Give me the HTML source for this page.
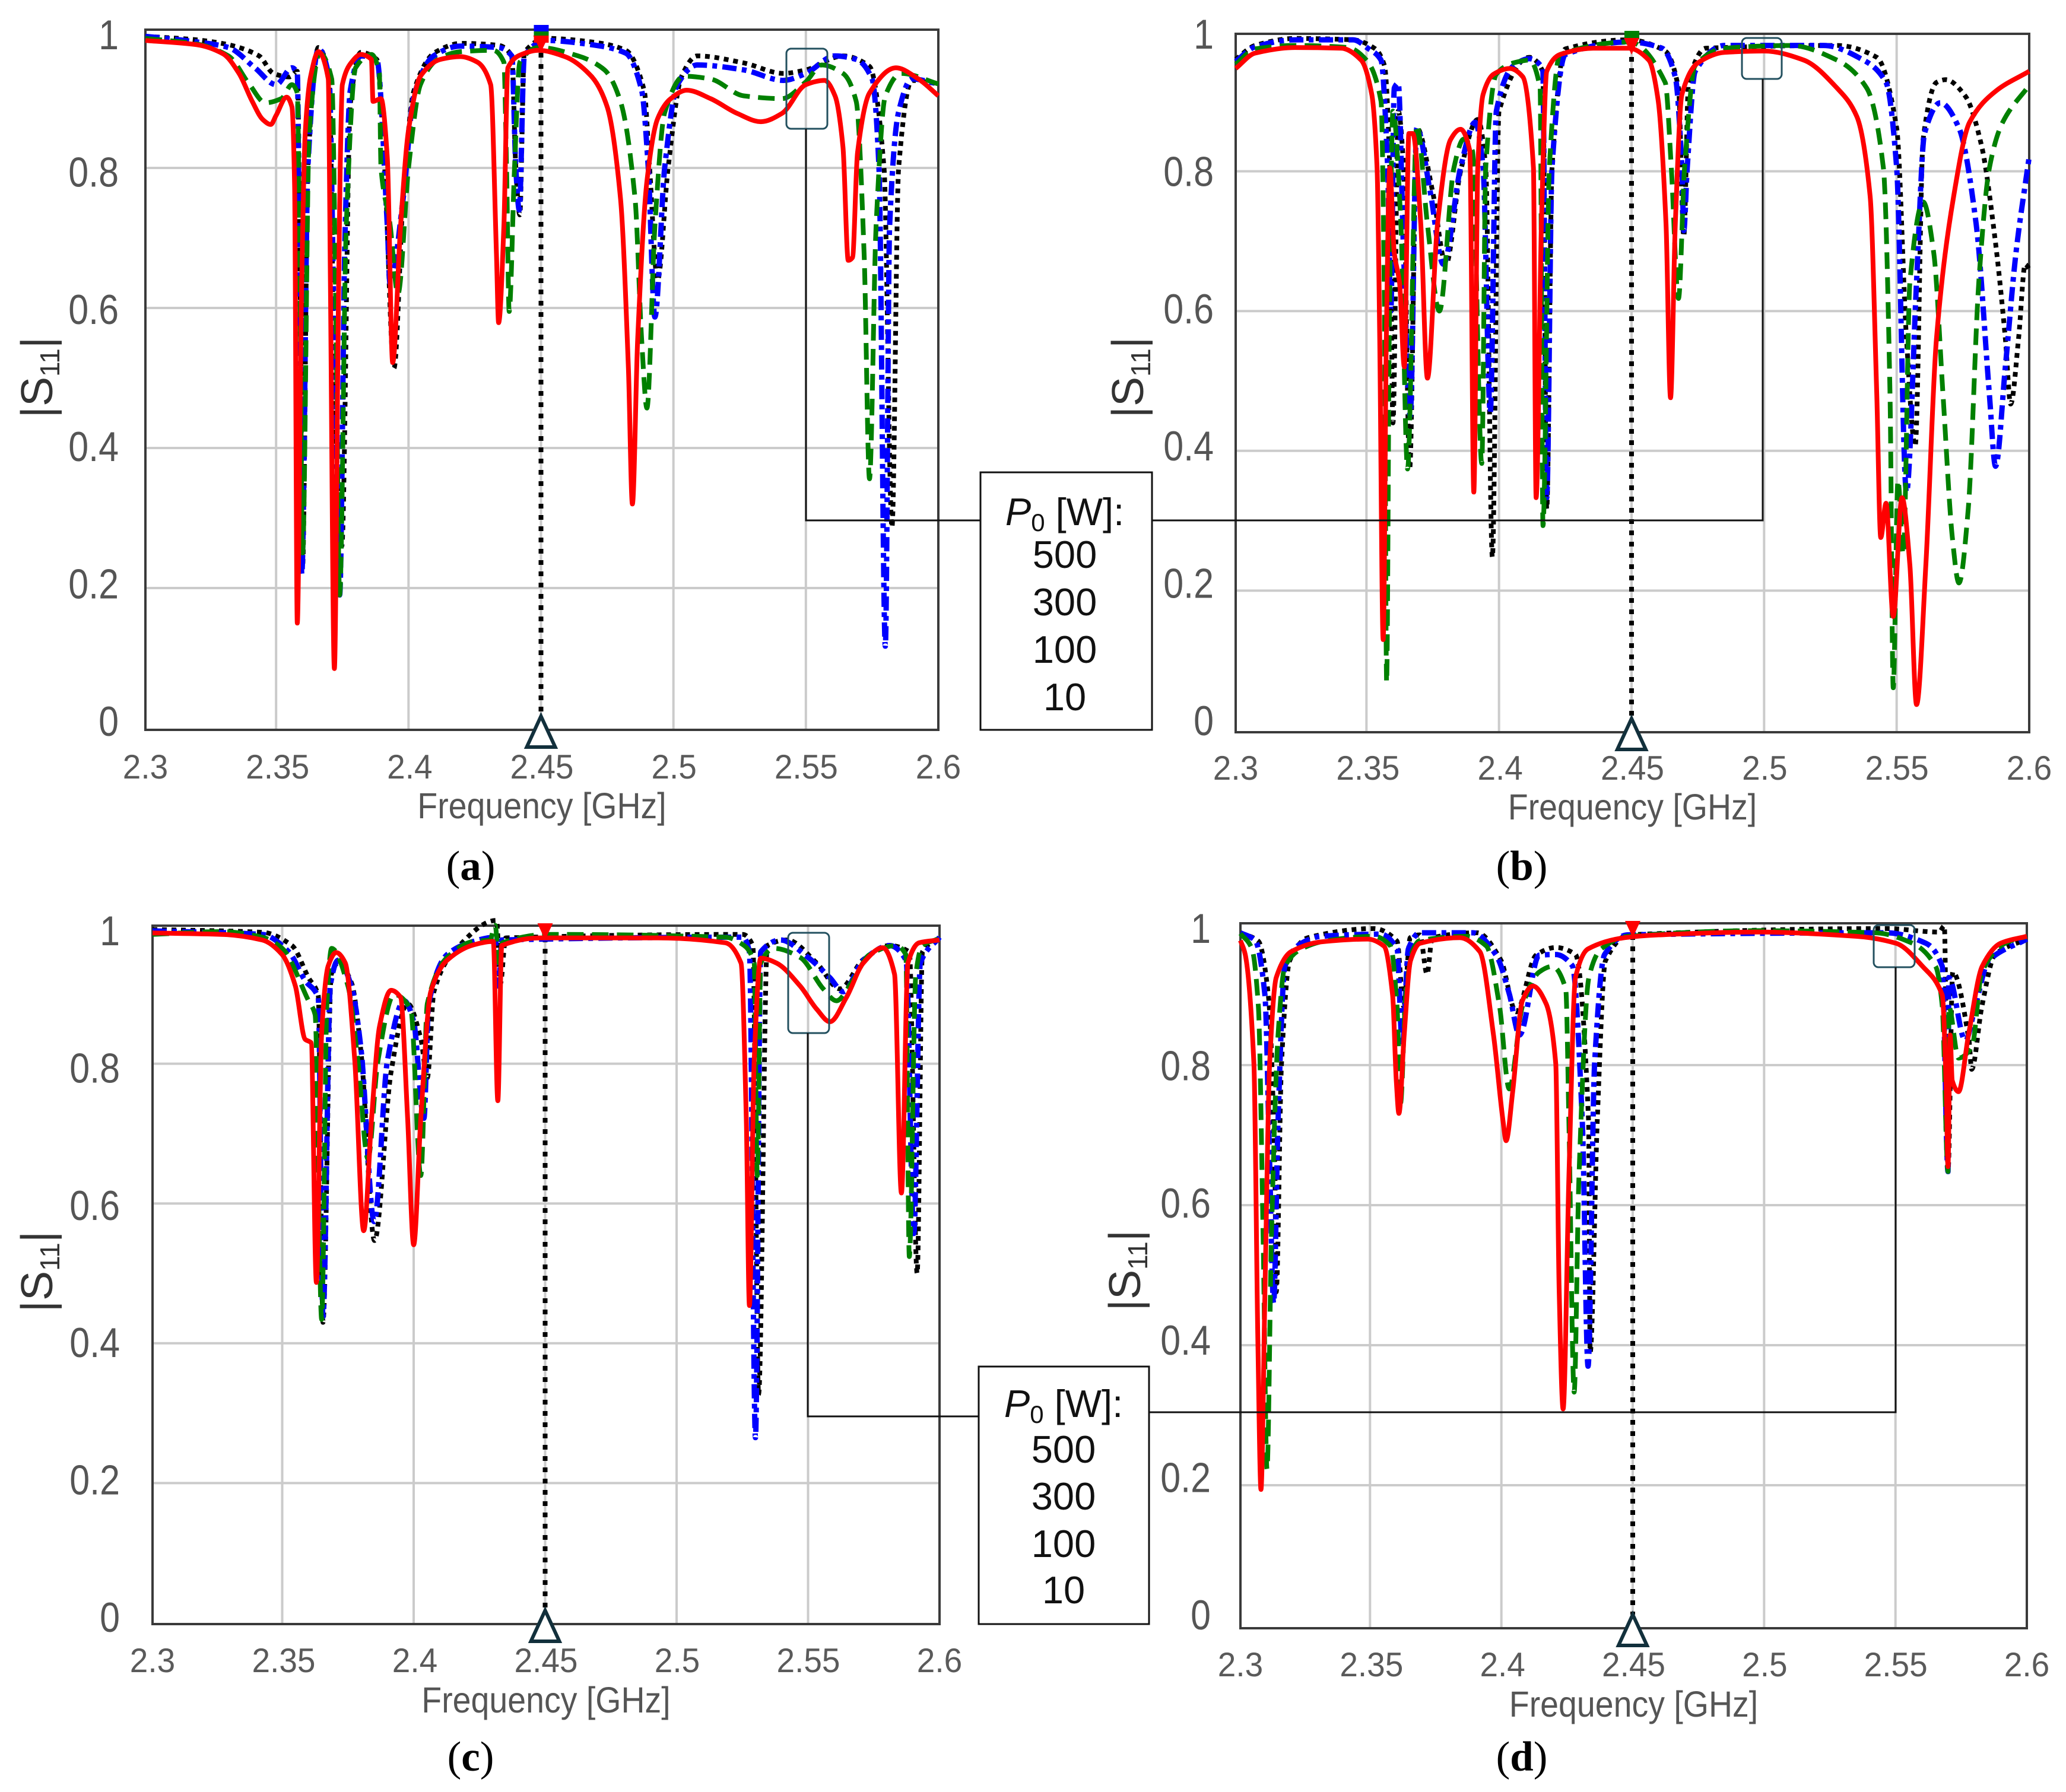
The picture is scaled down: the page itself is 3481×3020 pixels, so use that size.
<!DOCTYPE html>
<html><head><meta charset="utf-8"><title>S11 frequency response at four power levels</title>
<style>html,body{margin:0;padding:0;background:#fff}svg{display:block}text{font-family:"Liberation Sans",sans-serif}</style>
</head><body>
<svg id="fig" xmlns="http://www.w3.org/2000/svg" width="3481" height="3020" viewBox="0 0 3481 3020"><rect width="3481" height="3020" fill="#fff"/></svg>
<script>
const xTicks=[2.3,2.35,2.4,2.45,2.5,2.55,2.6];
const xTickLabels=["2.3","2.35","2.4","2.45","2.5","2.55","2.6"];
const yTicks=[0,0.2,0.4,0.6,0.8,1];
const yTickLabels=["0","0.2","0.4","0.6","0.8","1"];
const legendLabels=["500","300","100","10"];

const aBlackF=[2.3,2.32,2.332,2.3436,2.349,2.355,2.358,2.3592,2.36,2.362,2.366,2.37,2.372,2.3748,2.378,2.382,2.388,2.391,2.3945,2.398,2.402,2.41,2.42,2.434,2.439,2.4405,2.442,2.4437,2.452,2.469,2.482,2.489,2.491,2.494,2.498,2.503,2.509,2.5265,2.5415,2.55,2.564,2.574,2.5795,2.5825,2.585,2.59,2.6];
const aBlackS=[0.988,0.983,0.976,0.96,0.935,0.93,0.938,0.6,0.23,0.8,0.972,0.93,0.5,0.26,0.89,0.965,0.955,0.8,0.514,0.76,0.91,0.965,0.978,0.975,0.96,0.8,0.733,0.965,0.985,0.98,0.968,0.91,0.8,0.64,0.8,0.93,0.96,0.95,0.935,0.94,0.96,0.945,0.8,0.287,0.8,0.925,0.92];
const aBlueF=[2.3,2.32,2.332,2.342,2.35,2.356,2.358,2.3597,2.362,2.366,2.37,2.372,2.374,2.376,2.378,2.382,2.388,2.392,2.393,2.398,2.402,2.4095,2.4195,2.434,2.439,2.4405,2.4418,2.4437,2.452,2.469,2.482,2.488,2.4905,2.493,2.4967,2.5015,2.509,2.5265,2.5415,2.55,2.561,2.569,2.575,2.5776,2.58,2.5816,2.585,2.59,2.6];
const aBlueS=[0.988,0.98,0.972,0.943,0.919,0.943,0.935,0.22,0.8,0.97,0.93,0.55,0.19,0.7,0.91,0.96,0.955,0.717,0.635,0.757,0.903,0.96,0.974,0.972,0.96,0.8,0.74,0.96,0.982,0.976,0.964,0.911,0.8,0.587,0.8,0.919,0.947,0.94,0.925,0.935,0.96,0.955,0.927,0.8,0.117,0.717,0.88,0.927,0.92];
const aGreenF=[2.3,2.32,2.332,2.34,2.346,2.352,2.356,2.358,2.359,2.36,2.3625,2.3665,2.371,2.3727,2.374,2.3765,2.38,2.386,2.389,2.3896,2.393,2.396,2.4,2.4045,2.411,2.4195,2.432,2.436,2.437,2.438,2.44,2.442,2.449,2.464,2.474,2.48,2.4855,2.488,2.49,2.493,2.4967,2.504,2.514,2.5265,2.541,2.55,2.556,2.564,2.569,2.572,2.574,2.5765,2.58,2.586,2.6];
const aGreenS=[0.985,0.977,0.96,0.919,0.893,0.899,0.919,0.907,0.636,0.25,0.85,0.964,0.927,0.555,0.19,0.717,0.943,0.962,0.935,0.8,0.72,0.62,0.8,0.919,0.955,0.966,0.968,0.951,0.8,0.595,0.8,0.951,0.972,0.96,0.94,0.895,0.757,0.555,0.457,0.717,0.879,0.931,0.927,0.903,0.899,0.923,0.947,0.935,0.895,0.676,0.356,0.717,0.903,0.935,0.92];
const aRedF=[2.3,2.32,2.33,2.336,2.341,2.345,2.348,2.35,2.354,2.356,2.357,2.358,2.3595,2.361,2.363,2.366,2.3697,2.3705,2.372,2.3735,2.3742,2.375,2.3785,2.382,2.386,2.3866,2.3896,2.392,2.394,2.397,2.4,2.4045,2.412,2.4195,2.426,2.431,2.4332,2.434,2.436,2.4375,2.442,2.449,2.459,2.469,2.475,2.48,2.483,2.4845,2.4865,2.49,2.494,2.499,2.505,2.514,2.524,2.533,2.541,2.55,2.557,2.561,2.564,2.566,2.5676,2.5695,2.574,2.584,2.5925,2.6];
const aRedS=[0.982,0.976,0.963,0.935,0.895,0.869,0.862,0.875,0.901,0.887,0.773,0.15,0.6,0.85,0.93,0.966,0.927,0.636,0.085,0.6,0.8,0.919,0.951,0.962,0.955,0.895,0.899,0.814,0.522,0.717,0.854,0.931,0.955,0.959,0.951,0.919,0.676,0.579,0.717,0.943,0.961,0.968,0.959,0.931,0.887,0.757,0.514,0.32,0.555,0.781,0.87,0.899,0.911,0.899,0.878,0.866,0.878,0.919,0.925,0.903,0.83,0.668,0.672,0.822,0.907,0.943,0.927,0.903];

const bBlackF=[2.3,2.308,2.323,2.345,2.353,2.3568,2.3588,2.36,2.362,2.364,2.3663,2.369,2.375,2.38,2.3855,2.392,2.395,2.3975,2.4,2.4115,2.4165,2.418,2.42,2.425,2.449,2.4627,2.4677,2.4697,2.4715,2.478,2.5275,2.5425,2.55,2.5537,2.557,2.56,2.565,2.5685,2.576,2.582,2.587,2.591,2.593,2.596,2.5985,2.6];
const bBlackS=[0.96,0.98,0.99,0.988,0.976,0.951,0.805,0.44,0.886,0.805,0.374,0.862,0.77,0.667,0.8,0.874,0.805,0.248,0.886,0.963,0.943,0.317,0.805,0.975,0.988,0.972,0.919,0.707,0.927,0.976,0.98,0.963,0.862,0.561,0.407,0.846,0.927,0.931,0.907,0.837,0.707,0.561,0.467,0.561,0.667,0.66];
const bBlueF=[2.3,2.308,2.323,2.345,2.3505,2.3555,2.358,2.3592,2.3605,2.362,2.364,2.3665,2.369,2.374,2.379,2.3855,2.391,2.394,2.3967,2.399,2.4055,2.4115,2.4165,2.418,2.42,2.425,2.449,2.4615,2.4665,2.469,2.4697,2.471,2.474,2.485,2.5225,2.5375,2.546,2.55,2.5537,2.5575,2.5605,2.5665,2.5735,2.58,2.585,2.5873,2.591,2.595,2.6];
const bBlueS=[0.957,0.978,0.988,0.988,0.976,0.959,0.805,0.6,0.919,0.926,0.683,0.45,0.862,0.772,0.667,0.805,0.87,0.805,0.455,0.886,0.951,0.961,0.947,0.333,0.805,0.967,0.985,0.976,0.935,0.805,0.715,0.805,0.943,0.98,0.98,0.959,0.927,0.805,0.341,0.642,0.854,0.898,0.862,0.724,0.48,0.378,0.52,0.683,0.821];
const bGreenF=[2.3,2.308,2.323,2.343,2.35,2.3555,2.3568,2.3576,2.3586,2.36,2.363,2.3655,2.369,2.373,2.3775,2.383,2.3867,2.39,2.3935,2.395,2.399,2.4055,2.4115,2.4155,2.4166,2.419,2.423,2.449,2.4627,2.465,2.4677,2.47,2.474,2.485,2.51,2.5275,2.5387,2.545,2.5475,2.5487,2.5505,2.5525,2.555,2.56,2.564,2.5675,2.571,2.5735,2.577,2.581,2.585,2.59,2.6];
const bGreenS=[0.953,0.975,0.98,0.977,0.959,0.9,0.6,0.069,0.56,0.886,0.724,0.374,0.866,0.724,0.6,0.805,0.846,0.829,0.382,0.805,0.939,0.955,0.959,0.919,0.293,0.805,0.967,0.985,0.927,0.805,0.618,0.805,0.951,0.976,0.98,0.959,0.919,0.805,0.48,0.061,0.358,0.252,0.642,0.756,0.683,0.48,0.276,0.211,0.317,0.642,0.805,0.87,0.923];
const bRedF=[2.3,2.308,2.323,2.3405,2.348,2.352,2.354,2.355,2.3563,2.3575,2.3588,2.3605,2.3625,2.3643,2.366,2.3675,2.3705,2.373,2.3768,2.3817,2.3855,2.389,2.3905,2.392,2.394,2.398,2.404,2.409,2.413,2.414,2.416,2.418,2.423,2.4355,2.449,2.4565,2.46,2.463,2.4647,2.4665,2.469,2.475,2.485,2.5,2.515,2.5275,2.535,2.54,2.5425,2.544,2.546,2.5487,2.552,2.555,2.5575,2.561,2.565,2.5715,2.5775,2.5875,2.6];
const bRedS=[0.947,0.969,0.977,0.976,0.959,0.91,0.805,0.56,0.13,0.56,0.805,0.683,0.64,0.52,0.854,0.854,0.724,0.504,0.724,0.845,0.86,0.829,0.341,0.805,0.91,0.939,0.947,0.935,0.805,0.333,0.724,0.943,0.967,0.976,0.976,0.959,0.902,0.724,0.476,0.724,0.91,0.955,0.97,0.972,0.959,0.919,0.878,0.764,0.48,0.276,0.325,0.163,0.333,0.236,0.037,0.236,0.56,0.764,0.87,0.915,0.943];

const cBlackF=[2.3,2.3424,2.3537,2.36,2.3637,2.3655,2.3687,2.3713,2.3764,2.3801,2.3851,2.3914,2.3977,2.4027,2.4052,2.4077,2.4152,2.4315,2.433,2.435,2.5252,2.529,2.5312,2.5345,2.542,2.5533,2.5621,2.571,2.581,2.5885,2.5915,2.5935,2.6];
const cBlackS=[0.992,0.988,0.969,0.923,0.898,0.43,0.928,0.944,0.915,0.812,0.547,0.788,0.886,0.836,0.78,0.903,0.96,1.005,0.915,0.98,0.985,0.969,0.327,0.969,0.977,0.944,0.907,0.949,0.969,0.96,0.5,0.96,0.981];
const cBlueF=[2.3,2.3424,2.3525,2.3587,2.3637,2.3655,2.3683,2.3713,2.3763,2.38,2.385,2.39,2.3964,2.4,2.4039,2.4057,2.4127,2.4228,2.431,2.4323,2.4335,2.5252,2.5277,2.53,2.532,2.5395,2.55,2.5583,2.5634,2.571,2.581,2.5873,2.5902,2.5927,2.6];
const cBlueS=[0.99,0.985,0.96,0.919,0.895,0.438,0.912,0.948,0.911,0.82,0.574,0.804,0.89,0.86,0.722,0.886,0.956,0.975,0.981,0.911,0.977,0.981,0.96,0.265,0.96,0.977,0.952,0.923,0.903,0.948,0.969,0.948,0.557,0.944,0.981];
const cGreenF=[2.3,2.327,2.3424,2.35,2.36,2.3625,2.365,2.367,2.3688,2.375,2.3788,2.3826,2.3864,2.3926,2.3989,2.4027,2.4052,2.4127,2.4228,2.429,2.431,2.4325,2.4337,2.4513,2.5185,2.5257,2.5295,2.5307,2.532,2.537,2.547,2.5558,2.5608,2.567,2.5734,2.5835,2.5872,2.5885,2.591,2.5935,2.6];
const cGreenS=[0.985,0.989,0.981,0.965,0.89,0.87,0.434,0.886,0.965,0.911,0.804,0.664,0.804,0.899,0.878,0.64,0.886,0.952,0.975,0.977,0.998,0.944,0.973,0.985,0.981,0.969,0.944,0.64,0.944,0.965,0.952,0.907,0.89,0.919,0.956,0.969,0.956,0.524,0.928,0.969,0.979];
const cRedF=[2.3,2.327,2.3424,2.35,2.355,2.3587,2.361,2.363,2.365,2.3675,2.3705,2.374,2.3776,2.381,2.384,2.387,2.3914,2.395,2.3977,2.4,2.4027,2.4065,2.4127,2.4228,2.4303,2.432,2.4335,2.448,2.493,2.5185,2.5245,2.5265,2.5277,2.5295,2.532,2.538,2.547,2.5533,2.5583,2.5646,2.571,2.5784,2.5829,2.5855,2.588,2.5923,2.6];
const cRedS=[0.987,0.985,0.977,0.956,0.911,0.835,0.83,0.487,0.845,0.94,0.959,0.944,0.804,0.561,0.722,0.853,0.905,0.895,0.722,0.541,0.722,0.903,0.948,0.97,0.975,0.747,0.969,0.98,0.98,0.973,0.944,0.722,0.454,0.804,0.951,0.944,0.911,0.878,0.86,0.895,0.944,0.966,0.928,0.615,0.944,0.973,0.977];

const dBlackF=[2.3,2.3075,2.3113,2.3138,2.3143,2.3163,2.3194,2.3264,2.3515,2.3603,2.3628,2.3653,2.369,2.3717,2.3737,2.3908,2.3998,2.4056,2.4132,2.4207,2.4282,2.4332,2.4338,2.4365,2.4396,2.4485,2.5465,2.5666,2.5686,2.57,2.5718,2.578,2.579,2.5829,2.5879,2.6];
const dBlackS=[0.989,0.977,0.9,0.644,0.476,0.802,0.949,0.982,0.995,0.977,0.884,0.982,0.986,0.93,0.982,0.989,0.95,0.876,0.957,0.968,0.958,0.72,0.39,0.72,0.949,0.986,0.995,0.99,0.999,0.648,0.933,0.835,0.794,0.884,0.958,0.98];
const dBlueF=[2.3,2.3063,2.31,2.3118,2.3133,2.315,2.3176,2.3239,2.3314,2.354,2.3603,2.3623,2.3646,2.369,2.3892,2.398,2.403,2.4069,2.4144,2.4207,2.427,2.4308,2.433,2.4355,2.4393,2.4481,2.5465,2.5616,2.5678,2.57,2.5703,2.5766,2.5804,2.5854,2.6];
const dBlueS=[0.989,0.978,0.9,0.66,0.46,0.72,0.941,0.974,0.984,0.987,0.966,0.827,0.966,0.989,0.989,0.957,0.902,0.843,0.957,0.958,0.942,0.72,0.37,0.803,0.958,0.986,0.989,0.974,0.941,0.648,0.925,0.835,0.884,0.949,0.98];
const dGreenF=[2.3,2.305,2.3075,2.3093,2.3108,2.3125,2.315,2.3176,2.3239,2.3339,2.3515,2.3578,2.3603,2.3616,2.3636,2.3665,2.369,2.3867,2.3943,2.3993,2.403,2.408,2.4144,2.4194,2.4245,2.4257,2.4277,2.4295,2.4333,2.438,2.4481,2.4974,2.5424,2.5565,2.5653,2.5678,2.57,2.5703,2.574,2.5791,2.5829,2.5917,2.6];
const dGreenS=[0.988,0.967,0.884,0.558,0.223,0.558,0.843,0.941,0.966,0.978,0.984,0.97,0.884,0.745,0.9,0.966,0.978,0.984,0.97,0.884,0.766,0.884,0.933,0.941,0.909,0.72,0.333,0.639,0.925,0.966,0.984,0.992,0.989,0.974,0.941,0.884,0.648,0.884,0.81,0.826,0.933,0.974,0.984];
const dRedF=[2.3,2.3025,2.3058,2.3073,2.3085,2.31,2.3118,2.3143,2.32,2.3314,2.349,2.3553,2.3586,2.36,2.361,2.363,2.3654,2.369,2.3842,2.3918,2.397,2.4006,2.4018,2.4043,2.408,2.412,2.417,2.4207,2.422,2.4235,2.4257,2.4282,2.433,2.447,2.46,2.4974,2.535,2.5502,2.5603,2.5678,2.5693,2.57,2.5708,2.5716,2.574,2.5778,2.583,2.59,2.6];
const dRedS=[0.978,0.958,0.802,0.41,0.194,0.476,0.802,0.925,0.962,0.976,0.98,0.97,0.9,0.778,0.731,0.843,0.949,0.974,0.982,0.962,0.843,0.721,0.692,0.762,0.892,0.913,0.888,0.802,0.476,0.309,0.639,0.925,0.966,0.982,0.986,0.99,0.984,0.974,0.941,0.9,0.77,0.655,0.843,0.778,0.762,0.843,0.941,0.974,0.984];

const SVGNS="http://www.w3.org/2000/svg";
const fig=document.getElementById("fig");
function mk(parent,tag,attrs,txt){
  const e=document.createElementNS(SVGNS,tag);
  for(const k in attrs){e.setAttribute(k,attrs[k]);}
  if(txt!==undefined){e.textContent=txt;}
  parent.appendChild(e);
  return e;
}
function smoothPath(xs,ys){
  const n=xs.length;
  const sl=[];
  for(let i=0;i<n-1;i++){sl.push((ys[i+1]-ys[i])/(xs[i+1]-xs[i]));}
  const m=[sl[0]];
  for(let i=1;i<n-1;i++){
    if(sl[i-1]*sl[i]<=0){m.push(0);}
    else{m.push(2*sl[i-1]*sl[i]/(sl[i-1]+sl[i]));}
  }
  m.push(sl[n-2]);
  let d="M"+xs[0].toFixed(1)+" "+ys[0].toFixed(1);
  for(let i=0;i<n-1;i++){
    const h=(xs[i+1]-xs[i])/3;
    d+="C"+(xs[i]+h).toFixed(1)+" "+(ys[i]+m[i]*h).toFixed(1)+" "+(xs[i+1]-h).toFixed(1)+" "+(ys[i+1]-m[i+1]*h).toFixed(1)+" "+xs[i+1].toFixed(1)+" "+ys[i+1].toFixed(1);
  }
  return d;
}
function drawPanel(p,series){
  const g=mk(fig,"g",{});
  
  
  const X=f=>(p.left-3)+(f-2.3)/0.3*(p.right-p.left+3);
  const Y=v=>p.y0-v*p.ySpan;
  const LX=f=>p.left+(f-2.3)/0.3*(p.right-p.left);
  xTicks.forEach(t=>{
    if(t>2.3&&t<2.6){
      const l=mk(g,"line",{x1:X(t),x2:X(t),y1:p.top,y2:p.bottom,stroke:"#cbcbcb","stroke-width":4});
      
      
    }
  });
  yTicks.forEach(t=>{
    if(t>0&&t<1){
      const l=mk(g,"line",{x1:p.left,x2:p.right,y1:Y(t),y2:Y(t),stroke:"#cbcbcb","stroke-width":4});
      
      
    }
  });
  const frame=mk(g,"rect",{x:p.left,y:p.top,width:p.right-p.left,height:p.bottom-p.top,fill:"none",stroke:"#3a3a3a","stroke-width":4});
  
  
  const marker=mk(g,"line",{x1:X(2.45),x2:X(2.45),y1:p.top+20,y2:p.bottom-23,stroke:"#000","stroke-width":8,"stroke-dasharray":"8 11"});
  
  
  series.forEach(s=>{
    const n=Math.min(s.f.length,s.v.length);
    const xs=[];
    const ys=[];
    for(let i=0;i<n;i++){
      xs.push(Math.max(p.left,X(s.f[i])));
      ys.push(Y(s.v[i]));
    }
    const line=mk(g,"path",{d:smoothPath(xs,ys),fill:"none",stroke:s.c,"stroke-width":s.w,"stroke-dasharray":s.d,"stroke-linejoin":"round"});
    
    
  });
  p.tops.forEach(m=>{
    const r=mk(g,"rect",{x:X(2.45)-12,y:m[0],width:25,height:m[1],fill:m[2]});
    
    
  });
  const ty=p.topRed;
  const tri=mk(g,"polygon",{points:[(X(2.45)-13)+","+ty,(X(2.45)+13)+","+ty,X(2.45)+","+(ty+28)].join(" "),fill:"#ff0000"});
  
  
  const base=mk(g,"polygon",{points:[X(2.45)+","+(p.bottom-23),(X(2.45)+24)+","+(p.bottom+29),(X(2.45)-24)+","+(p.bottom+29)].join(" "),fill:"#fff",stroke:"#12303c","stroke-width":6});
  
  
  const box=mk(g,"rect",{x:p.box[0],y:p.box[1],width:p.box[2],height:p.box[3],rx:8,fill:"none",stroke:"#23505f","stroke-width":3});
  
  
  xTicks.forEach((t,i)=>{
    const a=mk(g,"text",{transform:"translate("+LX(t)+","+p.xLab+") scale(1,1.05)","text-anchor":"middle","font-size":55,fill:"#5a5a5a"},xTickLabels[i]);
    
    
  });
  yTicks.forEach((t,i)=>{
    const cy=p.yLab1+(1-t)*p.yLabSpan+25;
    const a=mk(g,"text",{transform:"translate("+p.yLabX+","+cy+") scale(1,1.15)","text-anchor":"end","font-size":61,fill:"#555"},yTickLabels[i]);
    
    
  });
  const xt=mk(g,"text",{transform:"translate("+LX(2.45)+","+p.xTitle+") scale(1,1.1)","text-anchor":"middle","font-size":55.5,fill:"#555"},"Frequency [GHz]");
  
  
  const yt=mk(g,"text",{transform:"translate("+p.yTitleX+","+p.yTitleY+") rotate(-90)","text-anchor":"middle","font-size":75,fill:"#333"});
  
  
  mk(yt,"tspan",{},"|S");
  mk(yt,"tspan",{"font-size":46,dy:12},"11");
  mk(yt,"tspan",{dy:-12},"|");
  const cap=mk(g,"text",{x:p.capX,y:p.capY,"text-anchor":"middle","font-size":71,fill:"#000","style":'font-family:"Liberation Serif",serif'});
  
  
  mk(cap,"tspan",{},"(");
  mk(cap,"tspan",{"font-weight":"bold"},p.id);
  mk(cap,"tspan",{},")");
}
function seriesFor(bk,bkv,bl,blv,gr,grv,rd,rdv){
  return [
    {n:"black-dotted",f:bk,v:bkv,c:"#000",w:8,d:"8 8"},
    {n:"blue-dash-dot",f:bl,v:blv,c:"#0000ff",w:9,d:"24 9 8 9"},
    {n:"green-dashed",f:gr,v:grv,c:"#008000",w:8,d:"28 14"},
    {n:"red-solid",f:rd,v:rdv,c:"#ff0000",w:8,d:"none"}
  ];
}
drawPanel({id:"a",left:245,right:1581,top:50,bottom:1230,y0:1227,ySpan:1180,xLab:1312,xTitle:1379,yLabX:200,yLab1:58,yLabSpan:1157,yTitleX:88,yTitleY:636,capX:793,capY:1483,box:[1325,82,69,135],tops:[[42,12,"#0000ff"],[53,8,"#008000"],[60,12,"#ff0000"]],topRed:60},seriesFor(aBlackF,aBlackS,aBlueF,aBlueS,aGreenF,aGreenS,aRedF,aRedS));
drawPanel({id:"b",left:2082,right:3419,top:57,bottom:1234,y0:1231,ySpan:1178,xLab:1314,xTitle:1381,yLabX:2045,yLab1:57,yLabSpan:1157,yTitleX:1926,yTitleY:636,capX:2564,capY:1483,box:[2935,64,67,69],tops:[[52,14,"#008000"]],topRed:64},seriesFor(bBlackF,bBlackS,bBlueF,bBlueS,bGreenF,bGreenS,bRedF,bRedS));
drawPanel({id:"c",left:257,right:1583,top:1560,bottom:2737,y0:2735,ySpan:1178,xLab:2818,xTitle:2886,yLabX:202,yLab1:1568,yLabSpan:1157,yTitleX:88,yTitleY:2143,capX:793,capY:2984,box:[1328,1572,69,169],tops:[],topRed:1556},seriesFor(cBlackF,cBlackS,cBlueF,cBlueS,cGreenF,cGreenS,cRedF,cRedS));
drawPanel({id:"d",left:2090,right:3415,top:1556,bottom:2744,y0:2739,ySpan:1180,xLab:2825,xTitle:2893,yLabX:2040,yLab1:1564,yLabSpan:1157,yTitleX:1921,yTitleY:2141,capX:2564,capY:2984,box:[3157,1559,69,71],tops:[],topRed:1552},seriesFor(dBlackF,dBlackS,dBlueF,dBlueS,dGreenF,dGreenS,dRedF,dRedS));

function drawLegend(id,bx,by,bw,bh,cx,rows,connL,connR){
  const g=mk(fig,"g",{});
  
  
  const c1=mk(g,"polyline",{points:connL,fill:"none",stroke:"#111","stroke-width":3});
  
  
  const c2=mk(g,"polyline",{points:connR,fill:"none",stroke:"#111","stroke-width":3});
  
  
  const r=mk(g,"rect",{x:bx,y:by,width:bw,height:bh,fill:"#fff",stroke:"#111","stroke-width":3});
  
  
  const h=mk(g,"text",{x:cx,y:rows[0],"text-anchor":"middle","font-size":65,fill:"#111"});
  
  
  mk(h,"tspan",{"font-style":"italic"},"P");
  mk(h,"tspan",{"font-size":42,dy:10},"0");
  mk(h,"tspan",{dy:-10}," [W]:");
  legendLabels.forEach((t,i)=>{
    const e=mk(g,"text",{x:cx,y:rows[i+1],"text-anchor":"middle","font-size":65,fill:"#111"},t);
    
    
  });
}
drawLegend("top",1652,796,289,434,1794,[885,957,1037,1117,1197],"1358,217 1358,877 1652,877","1941,877 2970,877 2970,133");
drawLegend("bottom",1649,2303,287,434,1792,[2388,2465,2544,2624,2702],"1361,1741 1361,2387 1649,2387","1936,2380 3194,2380 3194,1630");
</script>
</body></html>
